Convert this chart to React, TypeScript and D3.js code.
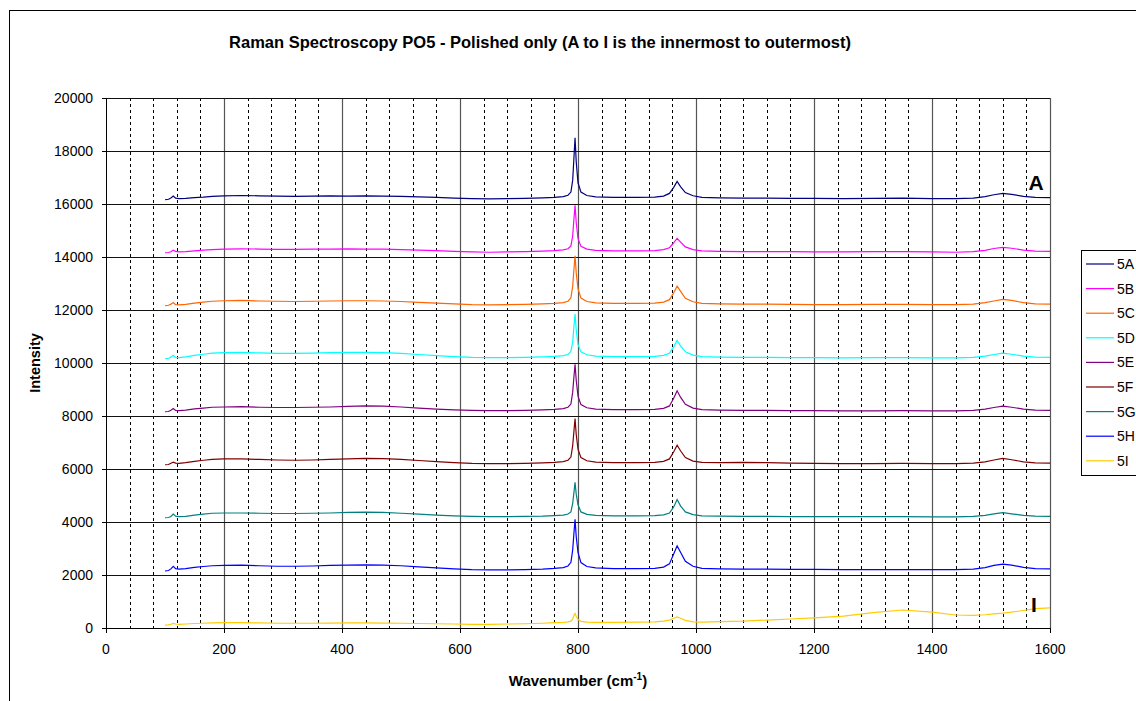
import React from "react";
import * as d3 from "d3";

const wavenumbers = [100,106,110,114,118,124,135,150,165,180,200,230,260,290,320,350,380,410,440,470,500,530,560,590,620,650,680,710,740,760,775,783,788,791,793,795,797,800,805,815,830,860,900,930,945,955,962,968,974,982,995,1010,1040,1080,1120,1160,1200,1250,1300,1350,1400,1440,1470,1490,1505,1520,1535,1555,1575,1600];

const s5A = [16160,16180,16230,16300,16220,16200,16210,16240,16260,16290,16310,16320,16310,16300,16290,16300,16310,16300,16310,16300,16290,16270,16250,16220,16200,16190,16200,16210,16230,16250,16280,16330,16450,16900,17700,18500,17600,16800,16450,16320,16270,16250,16250,16260,16300,16400,16620,16850,16650,16430,16310,16250,16230,16220,16220,16210,16210,16200,16210,16220,16200,16200,16220,16280,16350,16400,16360,16290,16250,16240];
const s5B = [14160,14170,14200,14260,14210,14190,14200,14230,14260,14280,14300,14310,14300,14290,14290,14300,14300,14310,14300,14300,14280,14260,14240,14210,14190,14180,14190,14200,14220,14240,14270,14310,14420,14800,15400,15950,15300,14700,14400,14300,14250,14230,14230,14240,14280,14350,14530,14700,14560,14380,14280,14230,14210,14200,14200,14200,14190,14190,14200,14200,14190,14180,14200,14250,14320,14360,14330,14260,14220,14210];
const s5C = [12160,12180,12220,12280,12200,12190,12210,12260,12300,12330,12350,12360,12340,12330,12320,12330,12340,12350,12350,12340,12320,12290,12260,12230,12200,12190,12200,12210,12230,12250,12280,12330,12460,12900,13500,14050,13400,12800,12450,12320,12270,12250,12250,12260,12300,12390,12640,12900,12700,12440,12310,12250,12230,12220,12220,12210,12200,12200,12210,12210,12200,12200,12220,12280,12340,12400,12360,12280,12230,12220];
const s5D = [10160,10180,10220,10290,10210,10200,10230,10290,10330,10370,10390,10400,10380,10360,10360,10370,10390,10400,10400,10390,10360,10320,10280,10240,10210,10200,10200,10210,10230,10250,10280,10320,10440,10800,11350,11850,11250,10700,10420,10310,10260,10240,10240,10250,10290,10370,10600,10850,10640,10420,10300,10240,10220,10210,10210,10200,10200,10190,10200,10200,10190,10190,10210,10260,10320,10370,10330,10260,10220,10210];
const s5E = [8160,8170,8220,8280,8210,8200,8220,8270,8300,8330,8340,8350,8330,8320,8320,8330,8340,8360,8380,8370,8340,8300,8260,8230,8210,8200,8200,8210,8230,8250,8280,8330,8450,8900,9450,9950,9350,8750,8430,8310,8260,8240,8240,8250,8290,8380,8660,8950,8700,8440,8300,8240,8220,8210,8210,8200,8200,8190,8190,8200,8190,8190,8210,8260,8320,8370,8330,8260,8220,8210];
const s5F = [6160,6170,6220,6260,6220,6210,6240,6290,6330,6360,6380,6380,6360,6340,6330,6340,6360,6380,6400,6390,6360,6320,6280,6240,6210,6200,6200,6210,6230,6250,6280,6330,6450,6880,7400,7900,7300,6750,6430,6310,6260,6240,6240,6250,6290,6380,6640,6900,6680,6430,6300,6250,6240,6250,6240,6220,6210,6200,6200,6210,6200,6200,6220,6270,6340,6400,6350,6270,6230,6220];
const s5G = [4160,4170,4210,4300,4220,4200,4210,4260,4300,4330,4340,4340,4330,4320,4320,4330,4340,4360,4370,4360,4330,4300,4260,4230,4210,4200,4200,4210,4220,4240,4260,4300,4380,4700,5100,5500,5050,4650,4380,4290,4250,4230,4230,4240,4270,4340,4560,4850,4600,4380,4280,4230,4220,4210,4210,4200,4200,4200,4200,4200,4190,4190,4210,4250,4310,4350,4310,4250,4220,4210];
const s5H = [2150,2170,2230,2330,2240,2220,2240,2290,2320,2350,2360,2370,2350,2330,2330,2340,2360,2370,2380,2370,2350,2310,2270,2230,2200,2190,2190,2200,2220,2250,2280,2340,2480,2950,3550,4100,3450,2850,2470,2320,2270,2240,2240,2250,2300,2420,2780,3100,2850,2520,2330,2250,2230,2220,2220,2210,2210,2200,2200,2200,2200,2200,2220,2280,2360,2410,2370,2290,2240,2230];
const s5I = [110,120,140,170,150,140,150,170,180,190,200,200,190,180,180,180,185,190,190,185,180,170,160,150,140,140,150,160,180,200,210,230,260,340,460,550,440,320,250,220,210,210,220,230,260,300,370,420,370,290,230,220,240,260,300,340,380,450,580,680,600,490,480,500,530,560,600,660,730,760];

const seriesNames = ["5A","5B","5C","5D","5E","5F","5G","5H","5I"];
const seriesValues = [s5A,s5B,s5C,s5D,s5E,s5F,s5G,s5H,s5I];
const seriesColors = ["#000080","#FF00FF","#FF6600","#00FFFF","#800080","#800000","#008080","#0000FF","#FFCC00"];

const xTicks = [0,200,400,600,800,1000,1200,1400,1600];
const yTicks = [0,2000,4000,6000,8000,10000,12000,14000,16000,18000,20000];

const W = 1136, H = 701;
const left = 106, right = 1050, top = 98, bottom = 628;
const FONT = "Arial, 'Liberation Sans', sans-serif";

export default function App() {
  const x = d3.scaleLinear().domain([0, 1600]).range([left, right]);
  const y = d3.scaleLinear().domain([0, 20000]).range([bottom, top]);
  const minor = d3.range(40, 1600, 40).filter((v) => v % 200 !== 0);
  const line = d3.line<number>().x((_, i) => x(wavenumbers[i])).y((d) => y(d));

  return (
    <svg width={W} height={H} style={{ position: "absolute", left: 0, top: 0, background: "#fff" }} fontFamily={FONT}>
      <rect x={0} y={0} width={W} height={H} fill="#fff" />
      <rect x={9.5} y={10.5} width={1140} height={710} fill="none" stroke="#000" strokeWidth={1} />
      <text x={540} y={48} textAnchor="middle" fontSize={16.5} fontWeight="bold">
        Raman Spectroscopy PO5 - Polished only (A to I is the innermost to outermost)
      </text>
      {minor.map((v) => (
        <line key={"m" + v} x1={Math.round(x(v)) + 0.5} x2={Math.round(x(v)) + 0.5} y1={top} y2={bottom}
          stroke="#000" strokeWidth={1} strokeDasharray="3,3" />
      ))}
      {xTicks.slice(1).map((v) => (
        <line key={"vx" + v} x1={Math.round(x(v)) + 0.5} x2={Math.round(x(v)) + 0.5} y1={top} y2={bottom}
          stroke="#555" strokeWidth={1.2} />
      ))}
      {yTicks.map((v) => (
        <line key={"hy" + v} x1={left} x2={right} y1={Math.round(y(v)) + 0.5} y2={Math.round(y(v)) + 0.5}
          stroke="#111" strokeWidth={1.2} />
      ))}
      <line x1={left + 0.5} x2={left + 0.5} y1={top} y2={bottom + 5} stroke="#000" />
      <line x1={left - 4} x2={right} y1={bottom + 0.5} y2={bottom + 0.5} stroke="#000" />
      {yTicks.map((v) => (
        <g key={"yt" + v}>
          <line x1={left - 4} x2={left} y1={Math.round(y(v)) + 0.5} y2={Math.round(y(v)) + 0.5} stroke="#000" />
          <text x={93} y={y(v) + 5} textAnchor="end" fontSize={14}>{v}</text>
        </g>
      ))}
      {xTicks.map((v) => (
        <g key={"xt" + v}>
          <line x1={Math.round(x(v)) + 0.5} x2={Math.round(x(v)) + 0.5} y1={bottom} y2={bottom + 5} stroke="#000" />
          <text x={x(v)} y={654} textAnchor="middle" fontSize={14}>{v}</text>
        </g>
      ))}
      {seriesValues.map((vals, i) => (
        <path key={seriesNames[i]} d={line(vals) || ""} fill="none" stroke={seriesColors[i]} strokeWidth={1.2} />
      ))}
      <text x={1036} y={190} textAnchor="middle" fontSize={21} fontWeight="bold">A</text>
      <text x={1034} y={612} textAnchor="middle" fontSize={21} fontWeight="bold">I</text>
      <text transform={`translate(40, ${363}) rotate(-90)`} textAnchor="middle" fontSize={14.5} fontWeight="bold">Intensity</text>
      <text x={578} y={686} textAnchor="middle" fontSize={15} fontWeight="bold">
        Wavenumber (cm<tspan dy={-6} fontSize={10}>-1</tspan><tspan dy={6}>)</tspan>
      </text>
      <rect x={1081.5} y={250.5} width={80} height={225} fill="#fff" stroke="#000" />
      {seriesNames.map((n, i) => {
        const ly = 264 + i * 24.6;
        return (
          <g key={"lg" + n}>
            <line x1={1086} x2={1114} y1={ly} y2={ly} stroke={seriesColors[i]} strokeWidth={1.2} />
            <text x={1117} y={ly + 5} fontSize={14}>{n}</text>
          </g>
        );
      })}
    </svg>
  );
}
